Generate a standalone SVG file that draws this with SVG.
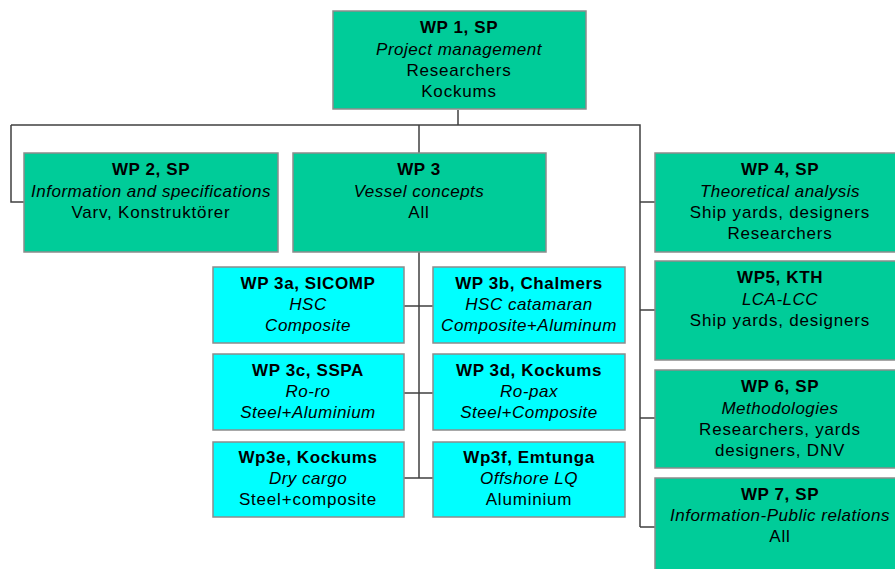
<svg xmlns="http://www.w3.org/2000/svg" width="895" height="569" viewBox="0 0 895 569">
<style>
.g{fill:#00CC99;stroke:#8C8C8C;stroke-width:1.5}
.c{fill:#00FFFF;stroke:#8C8C8C;stroke-width:1.5}
text{font-family:"Liberation Sans",Arial,sans-serif;font-size:17px;letter-spacing:0.8px;fill:#000;text-anchor:middle}
.b{font-weight:bold;letter-spacing:0.6px}
.i{font-style:italic;letter-spacing:0.5px}
.ln{fill:none;stroke:#404040;stroke-width:1.5}
</style>
<rect width="895" height="569" fill="#fff"/>
<g id="connectors" class="ln">
<path d="M458,110V125M11,125H640V527M11,125V202H24M419,125V153M419,252V478M404,306H433M404,393H433M404,478H433M640,202H655M640,310H655M640,418H655M640,527H655"/>
</g>
<g id="wp1"><rect class="g" x="333" y="11" width="253" height="98"/>
<text x="459" y="33" class="b">WP 1, SP</text><text x="459" y="55" class="i">Project management</text><text x="459" y="76">Researchers</text><text x="459" y="97">Kockums</text></g>
<g id="wp2"><rect class="g" x="24" y="153" width="254" height="99"/>
<text x="151" y="175" class="b">WP 2, SP</text><text x="151" y="197" class="i">Information and specifications</text><text x="151" y="218">Varv, Konstruktörer</text></g>
<g id="wp3"><rect class="g" x="293" y="153" width="253" height="99"/>
<text x="419" y="175" class="b">WP 3</text><text x="419" y="197" class="i">Vessel concepts</text><text x="419" y="218">All</text></g>
<g id="wp3a"><rect class="c" x="213" y="267" width="191" height="76"/>
<text x="308" y="289" class="b">WP 3a, SICOMP</text><text x="308" y="310" class="i">HSC</text><text x="308" y="331" class="i">Composite</text></g>
<g id="wp3b"><rect class="c" x="433" y="267" width="192" height="76"/>
<text x="529" y="289" class="b">WP 3b, Chalmers</text><text x="529" y="310" class="i">HSC catamaran</text><text x="529" y="331" class="i">Composite+Aluminum</text></g>
<g id="wp3c"><rect class="c" x="213" y="354" width="191" height="76"/>
<text x="308" y="376" class="b">WP 3c, SSPA</text><text x="308" y="397" class="i">Ro-ro</text><text x="308" y="418" class="i">Steel+Aluminium</text></g>
<g id="wp3d"><rect class="c" x="433" y="354" width="192" height="76"/>
<text x="529" y="376" class="b">WP 3d, Kockums</text><text x="529" y="397" class="i">Ro-pax</text><text x="529" y="418" class="i">Steel+Composite</text></g>
<g id="wp3e"><rect class="c" x="213" y="442" width="191" height="75"/>
<text x="308" y="463" class="b">Wp3e, Kockums</text><text x="308" y="484" class="i">Dry cargo</text><text x="308" y="505">Steel+composite</text></g>
<g id="wp3f"><rect class="c" x="433" y="442" width="192" height="75"/>
<text x="529" y="463" class="b">Wp3f, Emtunga</text><text x="529" y="484" class="i">Offshore LQ</text><text x="529" y="505">Aluminium</text></g>
<g id="wp4"><rect class="g" x="655" y="153" width="250" height="99"/>
<text x="780" y="175" class="b">WP 4, SP</text><text x="780" y="197" class="i">Theoretical analysis</text><text x="780" y="218">Ship yards, designers</text><text x="780" y="239">Researchers</text></g>
<g id="wp5"><rect class="g" x="655" y="261" width="250" height="99"/>
<text x="780" y="283" class="b">WP5, KTH</text><text x="780" y="305" class="i">LCA-LCC</text><text x="780" y="326">Ship yards, designers</text></g>
<g id="wp6"><rect class="g" x="655" y="370" width="250" height="98"/>
<text x="780" y="392" class="b">WP 6, SP</text><text x="780" y="414" class="i">Methodologies</text><text x="780" y="435">Researchers, yards</text><text x="780" y="456">designers, DNV</text></g>
<g id="wp7"><rect class="g" x="655" y="478" width="250" height="100"/>
<text x="780" y="500" class="b">WP 7, SP</text><text x="780" y="521" class="i">Information-Public relations</text><text x="780" y="542">All</text></g>
</svg>
